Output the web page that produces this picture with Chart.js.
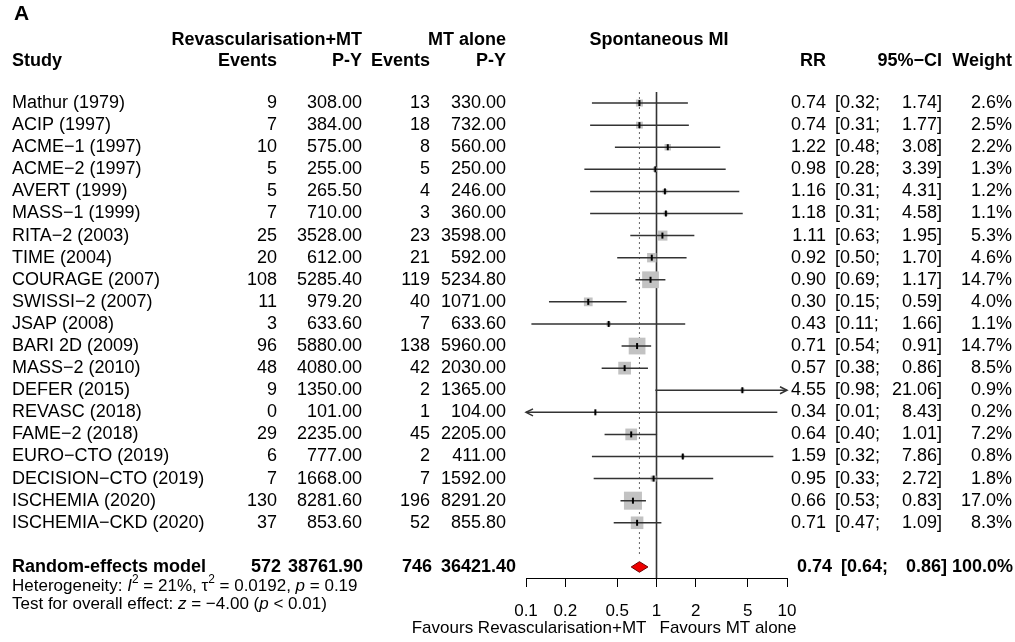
<!DOCTYPE html>
<html>
<head>
<meta charset="utf-8">
<script src="https://cdn.jsdelivr.net/npm/chart.js@4.4.1/dist/chart.umd.min.js"></script>
<style>
html, body { margin: 0; padding: 0; background: #fff; }
</style>
</head>
<body>
<canvas id="forest" width="1015" height="642"></canvas>
<script>
const estudios = ['Mathur (1979)', 'ACIP (1997)', 'ACME\u22121 (1997)', 'ACME\u22122 (1997)', 'AVERT (1999)',
    'MASS\u22121 (1999)', 'RITA\u22122 (2003)', 'TIME (2004)', 'COURAGE (2007)', 'SWISSI\u22122 (2007)',
    'JSAP (2008)', 'BARI 2D (2009)', 'MASS\u22122 (2010)', 'DEFER (2015)', 'REVASC (2018)',
    'FAME\u22122 (2018)', 'EURO\u2212CTO (2019)', 'DECISION\u2212CTO (2019)', 'ISCHEMIA (2020)', 'ISCHEMIA\u2212CKD (2020)'];
const eventosRev = [9, 7, 10, 5, 5, 7, 25, 20, 108, 11, 3, 96, 48, 9, 0, 29, 6, 7, 130, 37];
const pyRev = [308.00, 384.00, 575.00, 255.00, 265.50, 710.00, 3528.00, 612.00, 5285.40, 979.20, 633.60, 5880.00, 4080.00, 1350.00, 101.00, 2235.00, 777.00, 1668.00, 8281.60, 853.60];
const eventosMT = [13, 18, 8, 5, 4, 3, 23, 21, 119, 40, 7, 138, 42, 2, 1, 45, 2, 7, 196, 52];
const pyMT = [330.00, 732.00, 560.00, 250.00, 246.00, 360.00, 3598.00, 592.00, 5234.80, 1071.00, 633.60, 5960.00, 2030.00, 1365.00, 104.00, 2205.00, 411.00, 1592.00, 8291.20, 855.80];
const rr = [0.74, 0.74, 1.22, 0.98, 1.16, 1.18, 1.11, 0.92, 0.90, 0.30, 0.43, 0.71, 0.57, 4.55, 0.34, 0.64, 1.59, 0.95, 0.66, 0.71];
const ciBajo = [0.32, 0.31, 0.48, 0.28, 0.31, 0.31, 0.63, 0.50, 0.69, 0.15, 0.11, 0.54, 0.38, 0.98, 0.01, 0.40, 0.32, 0.33, 0.53, 0.47];
const ciAlto = [1.74, 1.77, 3.08, 3.39, 4.31, 4.58, 1.95, 1.70, 1.17, 0.59, 1.66, 0.91, 0.86, 21.06, 8.43, 1.01, 7.86, 2.72, 0.83, 1.09];
const peso = [2.6, 2.5, 2.2, 1.3, 1.2, 1.1, 5.3, 4.6, 14.7, 4.0, 1.1, 14.7, 8.5, 0.9, 0.2, 7.2, 0.8, 1.8, 17.0, 8.3];
const totalEventosRev = 572;
const totalPyRev = 38761.90;
const totalEventosMT = 746;
const totalPyMT = 36421.40;
const resumenRR = 0.74;
const resumenBajo = 0.64;
const resumenAlto = 0.86;
const ticksX = [0.1, 0.2, 0.5, 1, 2, 5, 10];

const familia = '"Liberation Sans", Arial, Helvetica, sans-serif';
const filaResumen = 21;
const xMin = 0.1, xMax = 10;

// lineas de IC con cortes entre estudios
const lineasIC = [];
estudios.forEach((e, i) => {
    lineasIC.push({ x: Math.max(ciBajo[i], xMin), y: i });
    lineasIC.push({ x: Math.min(ciAlto[i], xMax), y: i });
    lineasIC.push({ x: 1, y: null });
});
const puntos = rr.map((v, i) => ({ x: v, y: i }));
const ladoCuadro = peso.map(w => 4.37 * Math.sqrt(w) / Math.SQRT2);

const diamante = [
    { x: resumenBajo, y: filaResumen },
    { x: resumenRR, y: filaResumen - 0.24 },
    { x: resumenAlto, y: filaResumen },
    { x: resumenRR, y: filaResumen + 0.24 },
    { x: resumenBajo, y: filaResumen }
];

function textoMixto(ctx, partes, x, y, tam) {
    let xx = x;
    partes.forEach(p => {
        const t = p.sup ? tam * 0.7 : tam;
        ctx.font = `${p.it ? 'italic ' : ''}${t}px ${familia}`;
        ctx.fillText(p.t, xx, p.sup ? y - tam * 0.38 : y);
        xx += ctx.measureText(p.t).width;
    });
    return xx;
}

const flechas = {
    id: 'flechas',
    afterDatasetsDraw(chart) {
        const ctx = chart.ctx;
        const sx = chart.scales.x, sy = chart.scales.y;
        ctx.save();
        ctx.strokeStyle = '#333';
        ctx.lineWidth = 1.5;
        estudios.forEach((e, i) => {
            const py = sy.getPixelForValue(i);
            if (ciBajo[i] < xMin) {
                const px = sx.getPixelForValue(xMin);
                ctx.beginPath();
                ctx.moveTo(px + 7, py - 3.5); ctx.lineTo(px, py); ctx.lineTo(px + 7, py + 3.5);
                ctx.stroke();
            }
            if (ciAlto[i] > xMax) {
                const px = sx.getPixelForValue(xMax);
                ctx.beginPath();
                ctx.moveTo(px - 7, py - 3.5); ctx.lineTo(px, py); ctx.lineTo(px - 7, py + 3.5);
                ctx.stroke();
            }
        });
        ctx.restore();
    }
};

const tabla = {
    id: 'tabla',
    afterDraw(chart) {
        const ctx = chart.ctx;
        const sy = chart.scales.y;
        const sx = chart.scales.x;
        ctx.save();
        ctx.fillStyle = '#000';
        ctx.textBaseline = 'middle';
        const normal = `18px ${familia}`;
        const negrita = `bold 18px ${familia}`;

        // cabecera
        ctx.font = `bold 21px ${familia}`;
        ctx.textAlign = 'left';
        ctx.fillText('A', 14, 14);
        ctx.font = negrita;
        ctx.textAlign = 'right';
        ctx.fillText('Revascularisation+MT', 362, 40);
        ctx.fillText('MT alone', 506, 40);
        ctx.textAlign = 'center';
        ctx.fillText('Spontaneous MI', 659, 40);
        ctx.textAlign = 'left';
        ctx.fillText('Study', 12, 61);
        ctx.textAlign = 'right';
        ctx.fillText('Events', 277, 61);
        ctx.fillText('P-Y', 362, 61);
        ctx.fillText('Events', 430, 61);
        ctx.fillText('P-Y', 506, 61);
        ctx.fillText('RR', 826, 61);
        ctx.fillText('95%\u2212CI', 942, 61);
        ctx.fillText('Weight', 1012, 61);

        // filas de estudios
        ctx.font = normal;
        estudios.forEach((e, i) => {
            const y = sy.getPixelForValue(i);
            ctx.textAlign = 'left';
            ctx.fillText(e, 12, y);
            ctx.fillText('[' + ciBajo[i].toFixed(2) + ';', 835, y);
            ctx.textAlign = 'right';
            ctx.fillText(String(eventosRev[i]), 277, y);
            ctx.fillText(pyRev[i].toFixed(2), 362, y);
            ctx.fillText(String(eventosMT[i]), 430, y);
            ctx.fillText(pyMT[i].toFixed(2), 506, y);
            ctx.fillText(rr[i].toFixed(2), 826, y);
            ctx.fillText(ciAlto[i].toFixed(2) + ']', 942, y);
            ctx.fillText(peso[i].toFixed(1) + '%', 1012, y);
        });

        // modelo de efectos aleatorios
        const yr = sy.getPixelForValue(filaResumen);
        ctx.font = negrita;
        ctx.textAlign = 'left';
        ctx.fillText('Random-effects model', 12, yr);
        ctx.fillText('[' + resumenBajo.toFixed(2) + ';', 841, yr);
        ctx.textAlign = 'right';
        ctx.fillText(String(totalEventosRev), 281, yr);
        ctx.fillText(totalPyRev.toFixed(2), 363, yr);
        ctx.fillText(String(totalEventosMT), 432, yr);
        ctx.fillText(totalPyMT.toFixed(2), 516, yr);
        ctx.fillText(resumenRR.toFixed(2), 832, yr);
        ctx.fillText(resumenAlto.toFixed(2) + ']', 947, yr);
        ctx.fillText('100.0%', 1013, yr);

        // heterogeneidad
        ctx.textAlign = 'left';
        textoMixto(ctx, [
            { t: 'Heterogeneity: ' }, { t: 'I', it: true }, { t: '2', sup: true },
            { t: ' = 21%, \u03c4' }, { t: '2', sup: true }, { t: ' = 0.0192, ' },
            { t: 'p', it: true }, { t: ' = 0.19' }
        ], 12, 586, 17);
        textoMixto(ctx, [
            { t: 'Test for overall effect: ' }, { t: 'z', it: true }, { t: ' = \u22124.00 (' },
            { t: 'p', it: true }, { t: ' < 0.01)' }
        ], 12, 604, 17);

        // etiquetas bajo el eje
        const x1 = sx.getPixelForValue(1);
        ctx.font = `17px ${familia}`;
        ctx.textAlign = 'right';
        ctx.fillText('Favours Revascularisation+MT', x1 - 10, 628);
        ctx.textAlign = 'left';
        ctx.fillText('Favours MT alone', x1 + 3, 628);
        ctx.restore();
    }
};

new Chart(document.getElementById('forest'), {
    type: 'line',
    data: {
        datasets: [
            {
                // linea de no efecto
                data: [{ x: 1, y: -0.5 }, { x: 1, y: filaResumen + 0.5 }],
                borderColor: '#333',
                borderWidth: 1.6,
                pointRadius: 0,
                order: 5
            },
            {
                // estimacion combinada
                data: [{ x: resumenRR, y: -0.5 }, { x: resumenRR, y: filaResumen - 0.45 }],
                borderColor: '#666',
                borderWidth: 1,
                borderDash: [2, 3],
                pointRadius: 0,
                order: 5
            },
            {
                data: puntos,
                showLine: false,
                pointStyle: 'rect',
                pointRadius: ladoCuadro,
                pointBackgroundColor: '#c2c2c2',
                pointBorderWidth: 0,
                order: 4
            },
            {
                data: lineasIC,
                borderColor: '#333',
                borderWidth: 1.5,
                pointRadius: 0,
                spanGaps: false,
                order: 3
            },
            {
                data: puntos,
                showLine: false,
                pointStyle: 'line',
                pointRotation: 90,
                pointRadius: 3,
                pointBorderWidth: 2,
                pointBorderColor: '#000',
                order: 2
            },
            {
                data: diamante,
                borderColor: '#6b0000',
                borderWidth: 1,
                backgroundColor: '#ee0000',
                fill: 'shape',
                pointRadius: 0,
                order: 1
            }
        ]
    },
    options: {
        responsive: false,
        animation: false,
        events: [],
        layout: { padding: { left: 526, right: 228, top: 92, bottom: 20 } },
        plugins: { legend: { display: false }, tooltip: { enabled: false } },
        scales: {
            x: {
                type: 'logarithmic',
                min: xMin,
                max: xMax,
                afterBuildTicks: scale => { scale.ticks = ticksX.map(v => ({ value: v })); },
                afterFit: scale => { scale.height = 44; },
                ticks: {
                    autoSkip: false,
                    maxRotation: 0,
                    padding: 14,
                    color: '#000',
                    font: { family: familia, size: 17 },
                    callback: v => String(v)
                },
                grid: { drawOnChartArea: false, drawTicks: true, tickLength: 9, color: '#000', lineWidth: 1 },
                border: { display: true, color: '#000', width: 1 }
            },
            y: {
                type: 'linear',
                display: false,
                reverse: true,
                min: -0.5,
                max: filaResumen + 0.5
            }
        }
    },
    plugins: [flechas, tabla]
});
</script>
</body>
</html>
